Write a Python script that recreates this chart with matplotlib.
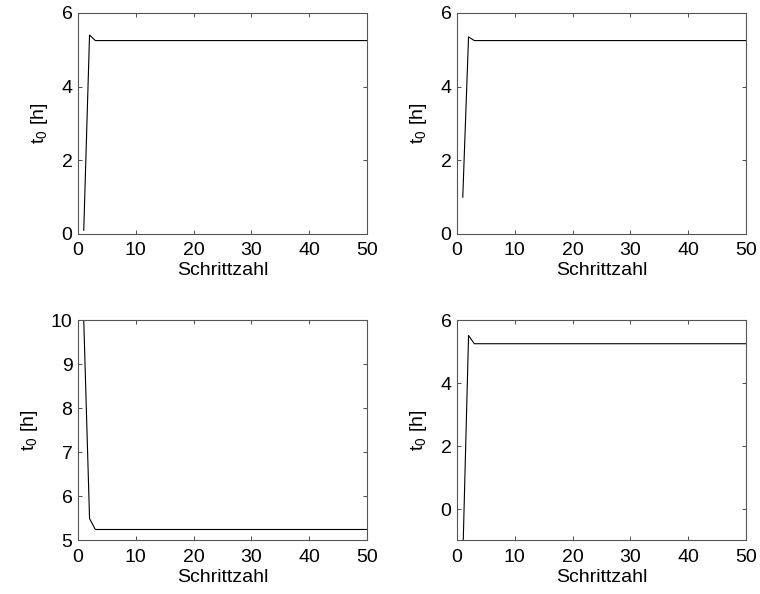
"""Konvergenz von t0 über der Schrittzahl, vier Startwerte."""

import numpy as np
import matplotlib
matplotlib.use("Agg")
import matplotlib.pyplot as plt

plt.rcParams["font.family"] = ["Liberation Sans", "DejaVu Sans"]
plt.rcParams["mathtext.default"] = "regular"

steps = np.arange(1, 51)

# t0 per iteration (constant after step 3)
t0_a = [0.1, 5.4] + [5.25] * 48
t0_b = [1.0, 5.35] + [5.25] * 48
t0_c = [10.0, 5.5] + [5.25] * 48
t0_d = [-1.6, 5.52] + [5.26] * 48

series = [t0_a, t0_b, t0_c, t0_d]
ylims = [(0, 6), (0, 6), (5, 10), (-1, 6)]
yticks = [[0, 2, 4, 6], [0, 2, 4, 6], [5, 6, 7, 8, 9, 10], [0, 2, 4, 6]]

# axes rectangles in figure fractions (left, bottom, width, height)
rects = [
    (0.1026, 0.6061, 0.3803, 0.3721),
    (0.6013, 0.6061, 0.3803, 0.3721),
    (0.1026, 0.0901, 0.3803, 0.3704),
    (0.6013, 0.0901, 0.3803, 0.3704),
]

fig = plt.figure(figsize=(7.6, 5.94), dpi=100)
for vals, ylim, yt, rect in zip(series, ylims, yticks, rects):
    ax = fig.add_axes(rect)
    ax.plot(steps, vals, color="black", linewidth=0.8)
    ax.set_xlim(0, 50)
    ax.set_ylim(*ylim)
    ax.set_xticks([0, 10, 20, 30, 40, 50])
    ax.set_yticks(yt)
    ax.tick_params(direction="in", length=3, width=0.6, top=True, right=True,
                   labelsize=14, colors="#333333", labelcolor="black")
    ax.tick_params(axis="x", pad=6)
    ax.tick_params(axis="y", pad=4)
    for sp in ax.spines.values():
        sp.set_color("#555555")
        sp.set_linewidth(0.8)
    ax.set_xlabel("Schrittzahl", fontsize=14, labelpad=2)
    ax.set_ylabel("t$_0$ [h]", fontsize=14, labelpad=8)

fig.savefig("out.png", dpi=100)
